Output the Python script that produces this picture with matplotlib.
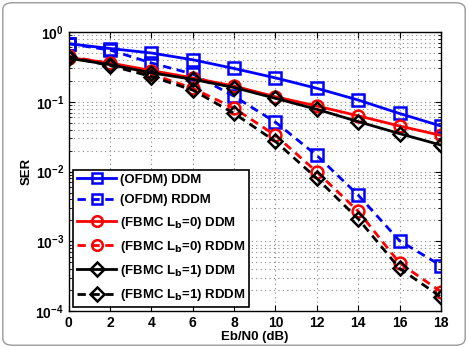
import numpy as np
import matplotlib
matplotlib.use('Agg')
import matplotlib.pyplot as plt
from matplotlib.patches import FancyBboxPatch
from matplotlib.ticker import LogLocator, NullFormatter

# Eb/N0 in dB
ebn0 = [0, 2, 4, 6, 8, 10, 12, 14, 16, 18]

ofdm_ddm = [0.68, 0.58, 0.50, 0.40, 0.30, 0.22, 0.156, 0.106, 0.068, 0.045]
ofdm_rddm = [0.68, 0.55, 0.36, 0.25, 0.12, 0.051, 0.017, 0.0046, 0.00102, 0.00045]
fbmc0_ddm = [0.43, 0.36, 0.28, 0.22, 0.168, 0.118, 0.087, 0.063, 0.045, 0.033]
fbmc0_rddm = [0.45, 0.35, 0.25, 0.156, 0.081, 0.033, 0.0099, 0.0027, 0.00049, 0.00019]
fbmc1_ddm = [0.42, 0.34, 0.26, 0.21, 0.16, 0.112, 0.078, 0.052, 0.035, 0.024]
fbmc1_rddm = [0.44, 0.33, 0.23, 0.147, 0.068, 0.027, 0.008, 0.0021, 0.00041, 0.00016]

labels = ['(OFDM) DDM', '(OFDM) RDDM',
          r'(FBMC L$_\mathbf{b}$=0) DDM', r'(FBMC L$_\mathbf{b}$=0) RDDM',
          r'(FBMC L$_\mathbf{b}$=1) DDM', r'(FBMC L$_\mathbf{b}$=1) RDDM']

plt.rcParams['font.family'] = ['Liberation Sans', 'DejaVu Sans']
plt.rcParams['font.weight'] = 'bold'
plt.rcParams['mathtext.default'] = 'bf'

fig = plt.figure(figsize=(4.68, 3.48), dpi=100)
# rounded frame around the picture
fig.patches.append(FancyBboxPatch((0.006, 0.008), 0.988, 0.984,
                                  boxstyle='round,pad=0,rounding_size=0.02',
                                  transform=fig.transFigure, fill=False,
                                  ec='#999999', lw=1.0))
ax = fig.add_axes([0.147, 0.106, 0.795, 0.802])

series = [
    (ofdm_ddm, 'b', '-', 's'),
    (ofdm_rddm, 'b', '--', 's'),
    (fbmc0_ddm, 'r', '-', 'o'),
    (fbmc0_rddm, 'r', '--', 'o'),
    (fbmc1_ddm, 'k', '-', 'D'),
    (fbmc1_rddm, 'k', '--', 'D'),
]
for (y, c, ls, m), lab in zip(series, labels):
    ms = 7.5 if m == 'D' else 8.5
    ax.semilogy(ebn0, y, color=c, ls=ls, lw=2.0, marker=m, ms=ms,
                mfc='none', mec=c, mew=1.8, label=lab,
                dashes=(3, 2) if ls == '--' else (None, None))

ax.set_xlim(0, 18)
ax.set_ylim(1e-4, 1)
ax.set_xticks(range(0, 19, 2))
ax.yaxis.set_major_locator(LogLocator(base=10, numticks=10))
ax.yaxis.set_minor_locator(LogLocator(base=10, subs=np.arange(2, 10), numticks=10))
ax.yaxis.set_minor_formatter(NullFormatter())
ax.grid(True, which='major', ls=(0, (1, 3)), color='#888888', lw=0.8)
ax.grid(True, which='minor', axis='y', ls=(0, (1, 3)), color='#888888', lw=0.8)
ax.tick_params(which='both', direction='in', top=True, right=True, labelsize=10)
ax.tick_params(which='major', length=4)
ax.tick_params(which='minor', length=2)
for s in ax.spines.values():
    s.set_linewidth(1.0)

ax.set_xlabel('Eb/N0 (dB)', fontsize=9.5, fontweight='bold', labelpad=1)
ax.set_ylabel('SER', fontsize=9.5, fontweight='bold', labelpad=2)

leg = ax.legend(loc='lower left', fontsize=9.5, handlelength=3.0, handletextpad=0.25,
                borderaxespad=0.3, labelspacing=0.62, fancybox=False,
                framealpha=1, edgecolor='k', borderpad=0.3, markerscale=0.9)
leg.get_frame().set_linewidth(1.2)

fig.savefig('out.png', dpi=100)
